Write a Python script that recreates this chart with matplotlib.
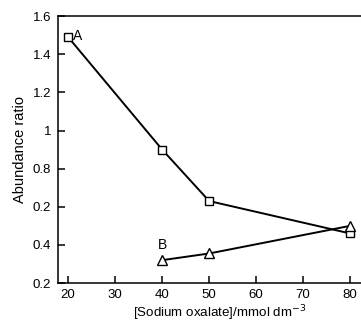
import matplotlib
matplotlib.use("Agg")
import matplotlib.pyplot as plt

plt.rcParams["font.family"] = ["Liberation Sans", "DejaVu Sans"]

# --- data ---
conc_a = [20, 40, 50, 80]
ratio_a = [1.49, 0.90, 0.63, 0.46]

conc_b = [40, 50, 80]
ratio_b = [0.32, 0.355, 0.50]

x_ticks = [20, 30, 40, 50, 60, 70, 80]
y_ticks = [0.2, 0.4, 0.6, 0.8, 1.0, 1.2, 1.4, 1.6]
y_tick_labels = ["0.2", "0.4", "0.2", "0.8", "1", "1.2", "1.4", "1.6"]

fig = plt.figure(figsize=(3.61, 3.22), dpi=100)
ax = fig.add_axes([0.161, 0.121, 0.839, 0.829])

ax.plot(conc_a, ratio_a, color="black", linewidth=1.4, marker="s",
        markersize=6, markerfacecolor="white", markeredgecolor="black",
        markeredgewidth=1.0)
ax.plot(conc_b, ratio_b, color="black", linewidth=1.4, marker="^",
        markersize=6.5, markerfacecolor="white", markeredgecolor="black",
        markeredgewidth=1.0)

ax.text(21.1, 1.495, "A", fontsize=10, va="center", ha="left")
ax.text(40.1, 0.40, "B", fontsize=10, va="center", ha="center")

ax.set_xlim(17.87, 82.3)
ax.set_ylim(0.2, 1.6)
ax.set_xticks(x_ticks)
ax.set_yticks(y_ticks)
ax.set_yticklabels(y_tick_labels)

ax.spines["right"].set_visible(False)
for s in ["left", "bottom", "top"]:
    ax.spines[s].set_linewidth(1.1)
ax.tick_params(direction="in", length=5, width=1.1, labelsize=9.5)
ax.tick_params(axis="y", pad=5)
ax.tick_params(axis="x", pad=4.5)

ax.set_xlabel("[Sodium oxalate]/mmol dm$^{-3}$", fontsize=9.6)
ax.xaxis.set_label_coords(0.535, -0.076)
ax.set_ylabel("Abundance ratio", fontsize=10.5, labelpad=4)

fig.savefig("out.png", dpi=100)
